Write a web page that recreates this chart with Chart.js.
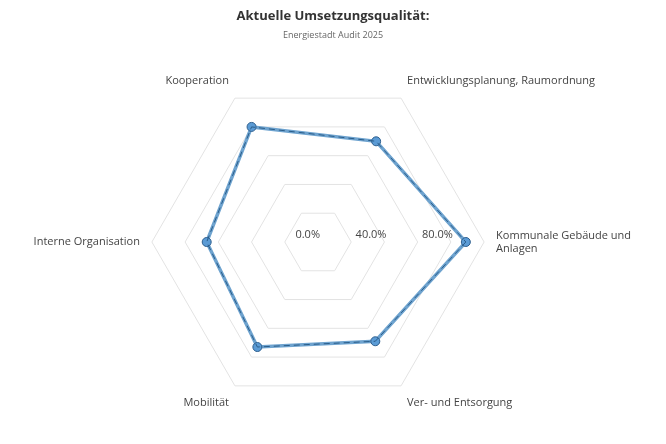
<!DOCTYPE html>
<html><head><meta charset="utf-8">
<script src="https://cdn.jsdelivr.net/npm/chart.js@4"></script>
<style>html,body{margin:0;padding:0;background:#fff}#w{width:666px;height:444px}</style>
</head><body><div id="w"><canvas id="c"></canvas></div>
<script>
const categories = ["Kommunale Gebäude und Anlagen","Ver- und Entsorgung","Mobilität","Interne Organisation","Kooperation","Entwicklungsplanung, Raumordnung"];
const labelLines = [["Kommunale Gebäude und","Anlagen"],"Ver- und Entsorgung","Mobilität","Interne Organisation","Kooperation","Entwicklungsplanung, Raumordnung"];
const values = [89, 69, 73, 67, 80, 70];
const tickLabels = [0, 40, 80];

const tickPlugin = {
  id: 'tickLbl',
  afterDatasetsDraw(chart) {
    const s = chart.scales.r, ctx = chart.ctx;
    ctx.save();
    ctx.font = '11px "Open Sans", sans-serif';
    ctx.fillStyle = '#444';
    ctx.textAlign = 'right';
    ctx.textBaseline = 'middle';
    tickLabels.forEach(v => {
      const d = s.getDistanceFromCenterForValue(v);
      ctx.fillText(v.toFixed(1) + '%', s.xCenter + d + 2, s.yCenter - 7);
    });
    ctx.restore();
  }
};

new Chart(document.getElementById('c'), {
  type: 'radar',
  data: {
    labels: labelLines,
    datasets: [
      { data: values, borderColor: '#6ea3cf', borderWidth: 3.5, backgroundColor: 'transparent',
        pointRadius: 4.5, pointBackgroundColor: '#5b9bd5', pointBorderColor: '#2e5f8e', pointBorderWidth: 1, order: 2 },
      { data: values, borderColor: '#2a5d8a', borderWidth: 1, borderDash: [6, 4], backgroundColor: 'transparent',
        pointRadius: 0, order: 1 }
    ]
  },
  options: {
    responsive: true, maintainAspectRatio: false, animation: false,
    layout: { padding: { top: 0, bottom: 2, left: 20, right: 20 } },
    plugins: {
      legend: { display: false }, tooltip: { enabled: false },
      title: { display: true, text: 'Aktuelle Umsetzungsqualität:', color: '#333',
        font: { family: '"Open Sans", sans-serif', size: 13, weight: 'bold' }, padding: { top: 8, bottom: 6 } },
      subtitle: { display: true, text: 'Energiestadt Audit 2025', color: '#666',
        font: { family: '"Open Sans", sans-serif', size: 9 }, padding: { bottom: 2 } }
    },
    scales: {
      r: {
        startAngle: 90, min: 0, max: 100,
        ticks: { stepSize: 20, display: false },
        grid: { color: '#e3e3e3', lineWidth: 1 },
        angleLines: { display: false },
        pointLabels: { color: '#444', font: { family: '"Open Sans", sans-serif', size: 11 }, padding: 12 }
      }
    }
  },
  plugins: [tickPlugin]
});
</script></body></html>
